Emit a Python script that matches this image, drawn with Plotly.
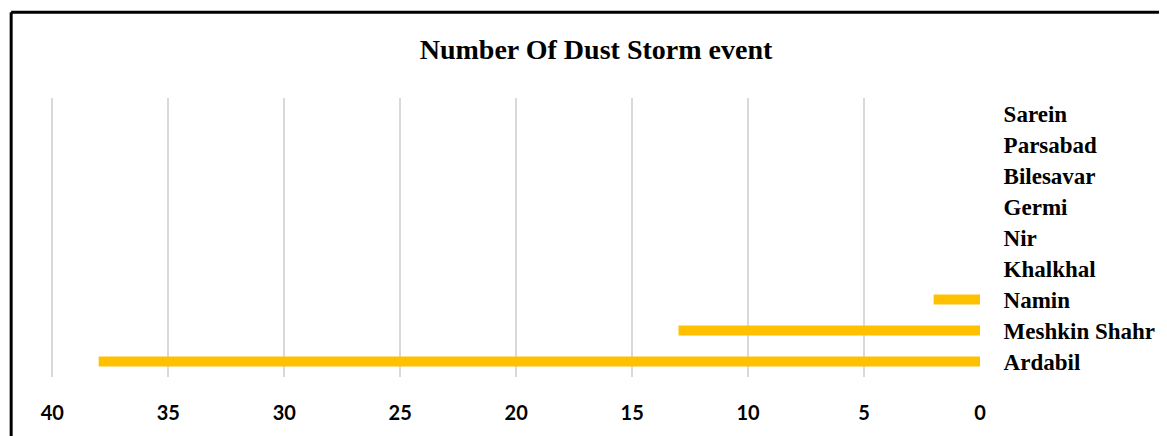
import plotly.graph_objects as go

categories = ["Ardabil", "Meshkin Shahr", "Namin", "Khalkhal", "Nir", "Germi", "Bilesavar", "Parsabad", "Sarein"]
values = [38, 13, 2, 0, 0, 0, 0, 0, 0]
x_ticks = [0, 5, 10, 15, 20, 25, 30, 35, 40]
title_text = "Number Of Dust Storm event"

# page body has an 8px margin, so figure coordinates are page coordinates minus 8
W, H = 1159, 428
L, R, T, B = 44 - 2, W - 976, 90, H - 370   # plot area left/right/top/bottom

fig = go.Figure(go.Bar(
    x=values, y=categories, orientation="h",
    marker=dict(color="#FFC000", line=dict(width=0)),
    width=0.33,
))

fig.update_layout(
    width=W, height=H,
    paper_bgcolor="white", plot_bgcolor="white",
    margin=dict(l=L, r=R, t=T, b=B),
    showlegend=False,
    title=dict(text=title_text, x=588/W, xanchor="center", y=1-41/H, yanchor="middle",
               font=dict(family="Liberation Serif", size=28, color="black", weight="bold")),
)
fig.update_xaxes(
    range=[40.1, 0], tickvals=x_ticks, ticktext=[str(v) for v in x_ticks],
    showgrid=True, gridcolor="#D9D9D9", gridwidth=2,
    zeroline=False, showline=False,
    ticks="outside", ticklen=18, tickcolor="rgba(0,0,0,0)",
    tickfont=dict(family="Lato", size=20, color="black", weight="bold"),
    fixedrange=True,
)
fig.update_yaxes(
    side="right", categoryorder="array", categoryarray=categories,
    showgrid=False, zeroline=False, showline=False,
    ticks="outside", ticklen=18, tickcolor="rgba(0,0,0,0)",
    tickfont=dict(family="Liberation Serif", size=23, color="black", weight="bold"),
    fixedrange=True,
)
pw = W - L - R
ph = H - T - B
border_y = 1 + (T - 4) / ph
border_x = -(L - 3) / pw
fig.add_shape(type="line", xref="paper", yref="paper", x0=border_x, x1=1.3, y0=border_y, y1=border_y,
              line=dict(color="black", width=3))
fig.add_shape(type="line", xref="paper", yref="paper", x0=border_x, x1=border_x, y0=border_y, y1=-0.3,
              line=dict(color="black", width=3))

fig.write_html("out.html")
